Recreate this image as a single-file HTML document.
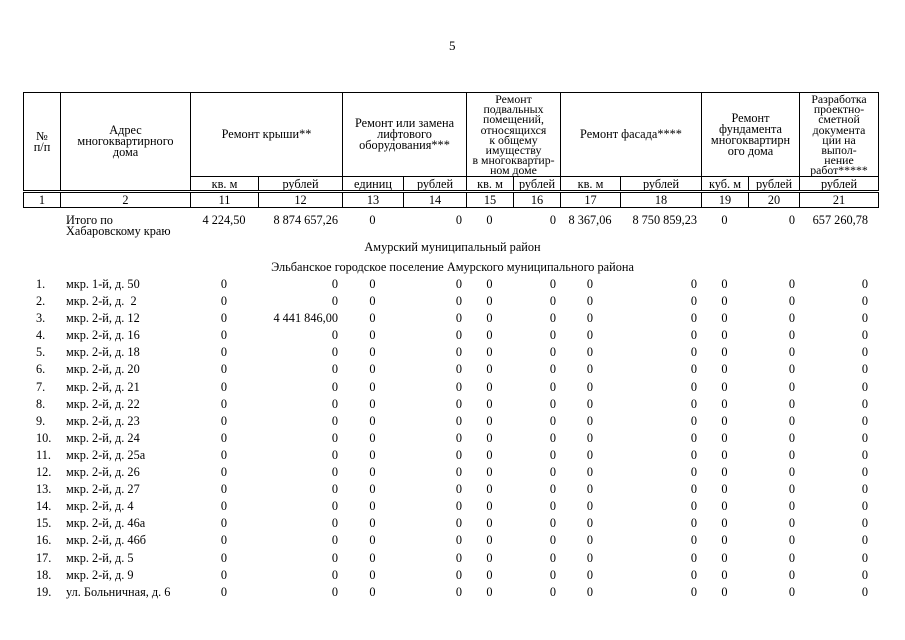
<!DOCTYPE html>
<html><head><meta charset="utf-8"><style>
body{margin:0;background:#fff;width:905px;height:640px;position:relative;overflow:hidden;font-family:"Liberation Serif",serif;color:#000;font-size:12.3px}
.pn{position:absolute;left:449px;top:38px;font-size:13px}
table{border-collapse:collapse;table-layout:fixed;position:absolute;left:23px}
#h{top:92px;border:1.5px solid #000}
#h td{border:1px solid #000;text-align:center;padding:0;line-height:11px;font-size:12.3px;overflow:visible;white-space:nowrap}
#h td.t{vertical-align:top;line-height:10.2px;font-size:11.8px;padding-top:1px}
#h tr.u td{height:13px;line-height:12px}
#h tr.n td{height:14px;line-height:13px;border-top:3px double #000}
#d{top:212px}
#d td{padding:0;white-space:nowrap;height:17.1px;line-height:17.1px;overflow:visible}
.c{text-align:center}.r{text-align:right;padding-right:4px!important}
.rr{text-align:right;padding-right:10px!important}
.ctr{position:absolute;left:0;width:905px;text-align:center}
</style></head><body>
<div class="pn">5</div>
<table id="h">
<colgroup><col style="width:37px"><col style="width:130px"><col style="width:68px"><col style="width:84px"><col style="width:61px"><col style="width:63px"><col style="width:47px"><col style="width:47px"><col style="width:60px"><col style="width:81px"><col style="width:47px"><col style="width:51px"><col style="width:79px"></colgroup>
<tr style="height:84px"><td rowspan="2">№<br>п/п</td><td rowspan="2">Адрес<br>многоквартирного<br>дома</td><td colspan="2">Ремонт крыши**</td><td colspan="2">Ремонт или замена<br>лифтового<br>оборудования***</td><td colspan="2" class="t">Ремонт<br>подвальных<br>помещений,<br>относящихся<br>к общему<br>имуществу<br>в многоквартир-<br>ном доме</td><td colspan="2">Ремонт фасада****</td><td colspan="2">Ремонт<br>фундамента<br>многоквартирн<br>ого дома</td><td class="t">Разработка<br>проектно-<br>сметной<br>документа<br>ции на<br>выпол-<br>нение<br>работ*****</td></tr>
<tr class="u"><td>кв. м</td><td>рублей</td><td>единиц</td><td>рублей</td><td>кв. м</td><td>рублей</td><td>кв. м</td><td>рублей</td><td>куб. м</td><td>рублей</td><td>рублей</td></tr>
<tr class="n"><td>1</td><td>2</td><td>11</td><td>12</td><td>13</td><td>14</td><td>15</td><td>16</td><td>17</td><td>18</td><td>19</td><td>20</td><td>21</td></tr>
</table>
<table id="d">
<colgroup><col style="width:37px"><col style="width:130px"><col style="width:68px"><col style="width:84px"><col style="width:61px"><col style="width:63px"><col style="width:47px"><col style="width:47px"><col style="width:60px"><col style="width:81px"><col style="width:47px"><col style="width:51px"><col style="width:79px"></colgroup>
<tr><td></td><td style="line-height:11px;padding-left:6px;vertical-align:top;padding-top:3px">Итого по<br>Хабаровскому краю</td><td class="c" style="vertical-align:top;line-height:11px;padding-top:3px">4 224,50</td><td class="r" style="vertical-align:top;line-height:11px;padding-top:3px">8 874 657,26</td><td class="c" style="vertical-align:top;line-height:11px;padding-top:3px">0</td><td class="r" style="vertical-align:top;line-height:11px;padding-top:3px">0</td><td class="c" style="vertical-align:top;line-height:11px;padding-top:3px">0</td><td class="r" style="vertical-align:top;line-height:11px;padding-top:3px">0</td><td class="c" style="vertical-align:top;line-height:11px;padding-top:3px">8 367,06</td><td class="r" style="vertical-align:top;line-height:11px;padding-top:3px">8 750 859,23</td><td class="c" style="vertical-align:top;line-height:11px;padding-top:3px">0</td><td class="r" style="vertical-align:top;line-height:11px;padding-top:3px">0</td><td class="rr" style="vertical-align:top;line-height:11px;padding-top:3px">657 260,78</td></tr>
</table>
<div class="ctr" style="top:240px">Амурский муниципальный район</div>
<div class="ctr" style="top:260px">Эльбанское городское поселение Амурского муниципального района</div>
<table id="b" style="top:276px">
<colgroup><col style="width:37px"><col style="width:130px"><col style="width:68px"><col style="width:84px"><col style="width:61px"><col style="width:63px"><col style="width:47px"><col style="width:47px"><col style="width:60px"><col style="width:81px"><col style="width:47px"><col style="width:51px"><col style="width:79px"></colgroup>
<tbody id="tb"></tbody>
</table>
<style>#b td{padding:0;white-space:nowrap;height:17.1px;line-height:17.1px}</style>
<script>
var a=["мкр. 1-й, д. 50","мкр. 2-й, д.&nbsp; 2","мкр. 2-й, д. 12","мкр. 2-й, д. 16","мкр. 2-й, д. 18","мкр. 2-й, д. 20","мкр. 2-й, д. 21","мкр. 2-й, д. 22","мкр. 2-й, д. 23","мкр. 2-й, д. 24","мкр. 2-й, д. 25а","мкр. 2-й, д. 26","мкр. 2-й, д. 27","мкр. 2-й, д. 4","мкр. 2-й, д. 46а","мкр. 2-й, д. 46б","мкр. 2-й, д. 5","мкр. 2-й, д. 9","ул. Больничная, д. 6"];
var h="";for(var i=0;i<a.length;i++){h+='<tr><td style="padding-left:13px">'+(i+1)+'.</td><td style="padding-left:6px">'+a[i]+'</td><td class="c">0</td><td class="r">'+(i==2?'4 441 846,00':'0')+'</td><td class="c">0</td><td class="r">0</td><td class="c">0</td><td class="r">0</td><td class="c">0</td><td class="r">0</td><td class="c">0</td><td class="r">0</td><td class="rr">0</td></tr>';}
document.getElementById("tb").innerHTML=h;
</script>
</body></html>
